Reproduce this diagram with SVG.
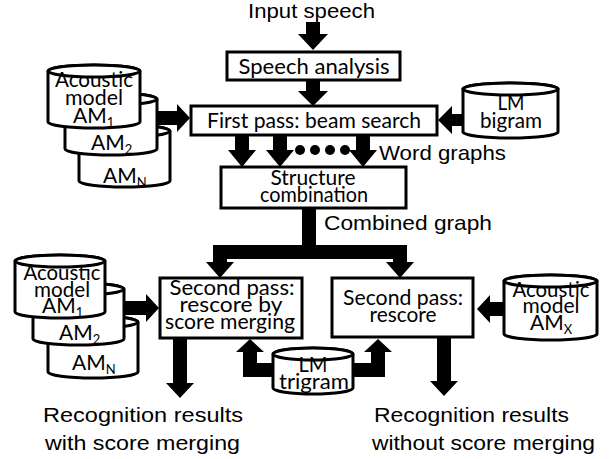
<svg xmlns="http://www.w3.org/2000/svg" width="611" height="459" viewBox="0 0 611 459">
<style>
.box{fill:#fff;stroke:#000;stroke-width:3}
.cyl{fill:#fff;stroke:#000;stroke-width:3}
.arr{fill:#000;stroke:none}
.t{font-family:Lato,"Carlito","Open Sans",sans-serif;font-size:21px;fill:#000;text-anchor:middle}
.ts{font-family:Lato,"Carlito","Open Sans",sans-serif;font-size:21px;fill:#000}
.sub{font-size:13px}
.a{font-family:"Liberation Sans",Arial,sans-serif;font-size:21px;fill:#000}
</style>
<rect width="611" height="459" fill="#fff"/>
<g id="connectors">
<path class="arr" d="M306,22 H320 V34 H328 L313,50 L298,34 H306 Z"/>
<path class="arr" d="M306,81 H320 V91 H328 L313,106 L298,91 H306 Z"/>
<path class="arr" d="M235,135 H249 V150 H256 L242,167 L228,150 H235 Z"/>
<path class="arr" d="M273,135 H287 V150 H294 L280,167 L266,150 H273 Z"/>
<path class="arr" d="M356,135 H370 V150 H377 L363,167 L349,150 H356 Z"/>
<circle cx="300" cy="150" r="5"/>
<circle cx="315" cy="150" r="5"/>
<circle cx="330" cy="150" r="5"/>
<circle cx="345" cy="150" r="5"/>
<path class="arr" d="M156,111 H177 V104 L190,118 L177,132 V125 H156 Z"/>
<path class="arr" d="M464,114 V126 H452 V134 L438,120 L452,106 V114 Z"/>
<path class="arr" d="M302,208 H316 V245 H407 V262 H414 L400,278 L386,262 H393 V259 H227 V262 H234 L220,278 L206,262 H213 V245 H302 Z"/>
<path class="arr" d="M504,302 V316 H490 V323 L477,309 L490,295 V302 Z"/>
<path class="arr" d="M122,301 H146 V294 L159,308 L146,322 V315 H122 Z"/>
<path class="arr" d="M275,363 V377 H243 V352 H236 L250,339 L264,352 H257 V363 Z"/>
<path class="arr" d="M351,363 V377 H385 V352 H392 L378,339 L364,352 H371 V363 Z"/>
<path class="arr" d="M173,338 H187 V383 H194 L180,398 L166,383 H173 Z"/>
<path class="arr" d="M437,337 H451 V381 H458 L444,396 L430,381 H437 Z"/>
</g>
<g id="input-label">
<text class="a" x="248" y="18" textLength="127" lengthAdjust="spacingAndGlyphs">Input speech</text>
</g>
<g id="speech-analysis">
<rect class="box" x="227" y="52" width="173" height="28"/>
<text class="t" x="314" y="74" textLength="151" lengthAdjust="spacingAndGlyphs">Speech analysis</text>
</g>
<g id="first-pass">
<rect class="box" x="191" y="106" width="246" height="29"/>
<text class="t" x="314" y="128" textLength="214" lengthAdjust="spacingAndGlyphs">First pass: beam search</text>
</g>
<g id="word-graphs-label">
<text class="a" x="379" y="160" textLength="127" lengthAdjust="spacingAndGlyphs">Word graphs</text>
</g>
<g id="structure-combination">
<rect class="box" x="221" y="167" width="185" height="41"/>
<text class="t" x="313" y="185" textLength="85" lengthAdjust="spacingAndGlyphs">Structure</text>
<text class="t" x="314" y="202" textLength="108" lengthAdjust="spacingAndGlyphs">combination</text>
</g>
<g id="combined-graph-label">
<text class="a" x="324" y="230" textLength="168" lengthAdjust="spacingAndGlyphs">Combined graph</text>
</g>
<g id="lm-bigram">
<path class="cyl" d="M463,89 A47.5,6 0 0 1 558,89 V132 A47.5,6 0 0 1 463,132 Z"/>
<ellipse class="cyl" cx="510.5" cy="89" rx="47.5" ry="6"/>
<text class="t" x="511" y="110" textLength="27" lengthAdjust="spacingAndGlyphs">LM</text>
<text class="t" x="511" y="128" textLength="62" lengthAdjust="spacingAndGlyphs">bigram</text>
</g>
<g id="am-stack-top">
<path class="cyl" d="M79,131 A45.5,6 0 0 1 170,131 V181 A45.5,6 0 0 1 79,181 Z"/>
<ellipse class="cyl" cx="124.5" cy="131" rx="45.5" ry="6"/>
<text class="ts" x="103" y="183">AM<tspan class="sub" dy="4">N</tspan></text>
<path class="cyl" d="M65,99 A46,6 0 0 1 157,99 V149 A46,6 0 0 1 65,149 Z"/>
<ellipse class="cyl" cx="111" cy="99" rx="46" ry="6"/>
<text class="ts" x="91" y="150">AM<tspan class="sub" dy="4">2</tspan></text>
<path class="cyl" d="M48,71 A46,6 0 0 1 140,71 V122 A46,6 0 0 1 48,122 Z"/>
<ellipse class="cyl" cx="94" cy="71" rx="46" ry="6"/>
<text class="t" x="94" y="87" textLength="78" lengthAdjust="spacingAndGlyphs">Acoustic</text>
<text class="t" x="94" y="105" textLength="58" lengthAdjust="spacingAndGlyphs">model</text>
<text class="ts" x="73" y="123">AM<tspan class="sub" dy="4">1</tspan></text>
</g>
<g id="second-pass-merge">
<rect class="box" x="160" y="278" width="142" height="60"/>
<text class="t" x="232" y="295" textLength="125" lengthAdjust="spacingAndGlyphs">Second pass:</text>
<text class="t" x="231" y="312" textLength="103" lengthAdjust="spacingAndGlyphs">rescore by</text>
<text class="t" x="230" y="329" textLength="130" lengthAdjust="spacingAndGlyphs">score merging</text>
</g>
<g id="second-pass-rescore">
<rect class="box" x="332" y="278" width="141" height="59"/>
<text class="t" x="403" y="305" textLength="120" lengthAdjust="spacingAndGlyphs">Second pass:</text>
<text class="t" x="403" y="322" textLength="67" lengthAdjust="spacingAndGlyphs">rescore</text>
</g>
<g id="am-x">
<path class="cyl" d="M504,281 A46.5,6 0 0 1 597,281 V334 A46.5,6 0 0 1 504,334 Z"/>
<ellipse class="cyl" cx="550.5" cy="281" rx="46.5" ry="6"/>
<text class="t" x="551" y="297" textLength="77" lengthAdjust="spacingAndGlyphs">Acoustic</text>
<text class="t" x="551" y="313" textLength="57" lengthAdjust="spacingAndGlyphs">model</text>
<text class="ts" x="530" y="330">AM<tspan class="sub" dy="4">X</tspan></text>
</g>
<g id="am-stack-bottom">
<path class="cyl" d="M48,322 A45,6 0 0 1 138,322 V372 A45,6 0 0 1 48,372 Z"/>
<ellipse class="cyl" cx="93" cy="322" rx="45" ry="6"/>
<text class="ts" x="72" y="370">AM<tspan class="sub" dy="4">N</tspan></text>
<path class="cyl" d="M33,289 A45.5,6 0 0 1 124,289 V339 A45.5,6 0 0 1 33,339 Z"/>
<ellipse class="cyl" cx="78.5" cy="289" rx="45.5" ry="6"/>
<text class="ts" x="59" y="340">AM<tspan class="sub" dy="4">2</tspan></text>
<path class="cyl" d="M15,261 A45,6 0 0 1 105,261 V312 A45,6 0 0 1 15,312 Z"/>
<ellipse class="cyl" cx="60" cy="261" rx="45" ry="6"/>
<text class="t" x="62" y="280" textLength="77" lengthAdjust="spacingAndGlyphs">Acoustic</text>
<text class="t" x="62" y="297" textLength="56" lengthAdjust="spacingAndGlyphs">model</text>
<text class="ts" x="42" y="313">AM<tspan class="sub" dy="4">1</tspan></text>
</g>
<g id="lm-trigram">
<path class="cyl" d="M273,354 A40,6 0 0 1 353,354 V388 A40,6 0 0 1 273,388 Z"/>
<ellipse class="cyl" cx="313" cy="354" rx="40" ry="6"/>
<text class="t" x="313" y="372" textLength="29" lengthAdjust="spacingAndGlyphs">LM</text>
<text class="t" x="314" y="389" textLength="70" lengthAdjust="spacingAndGlyphs">trigram</text>
</g>
<g id="result-merge">
<text class="a" x="43" y="422" textLength="200" lengthAdjust="spacingAndGlyphs">Recognition results</text>
<text class="a" x="45" y="450" textLength="195" lengthAdjust="spacingAndGlyphs">with score merging</text>
</g>
<g id="result-nomerge">
<text class="a" x="374" y="422" textLength="195" lengthAdjust="spacingAndGlyphs">Recognition results</text>
<text class="a" x="372" y="450" textLength="223" lengthAdjust="spacingAndGlyphs">without score merging</text>
</g>
</svg>
